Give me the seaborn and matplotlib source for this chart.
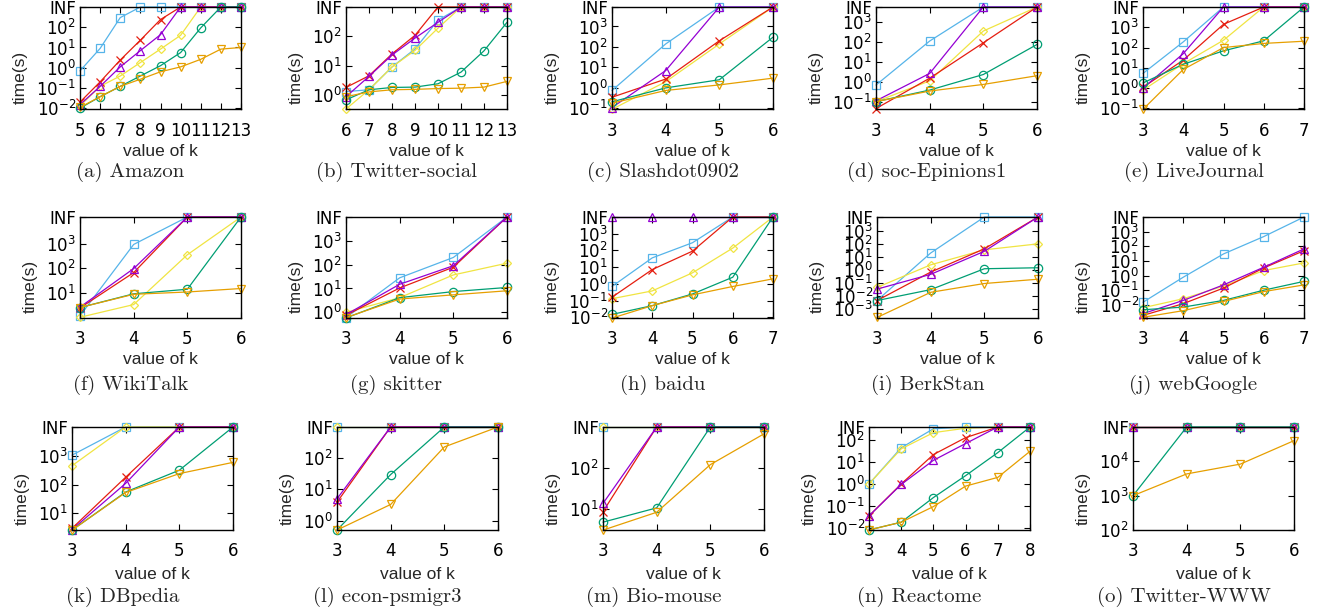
import numpy as np
import matplotlib
matplotlib.use("Agg")
import matplotlib.pyplot as plt
import seaborn as sns

INF = np.inf

# (a) Amazon
amazon_k = [5, 6, 7, 8, 9, 10, 11, 12, 13]
amazon_sq = [0.7, 9, 300, INF, INF, INF, INF, INF, INF]
amazon_dia = [0.013, 0.12, 0.39, 1.8, 8.3, 40, INF, INF, INF]
amazon_x = [0.02, 0.2, 2.4, 23, 240, INF, INF, INF, INF]
amazon_tri = [0.015, 0.12, 1.1, 7, 43, INF, INF, INF, INF]
amazon_cir = [0.01, 0.037, 0.12, 0.39, 1.26, 5.6, 93, INF, INF]
amazon_inv = [0.011, 0.037, 0.12, 0.27, 0.63, 1.1, 2.6, 8.3, 10]

# (b) Twitter-social
twsoc_k = [6, 7, 8, 9, 10, 11, 12, 13]
twsoc_sq = [1.3, 1.5, 9, 37, 355, INF, INF, INF]
twsoc_dia = [0.33, 1.5, 9, 33, 190, INF, INF, INF]
twsoc_x = [1.8, 4.5, 25, 108, INF, INF, INF, INF]
twsoc_tri = [0.87, 4.3, 23, 87, 300, INF, INF, INF]
twsoc_cir = [0.68, 1.5, 1.8, 1.85, 2.4, 6, 32, 300]
twsoc_inv = [0.87, 1.27, 1.5, 1.55, 1.65, 1.7, 1.85, 2.9]

# (c) Slashdot0902
slash_k = [3, 4, 5, 6]
slash_sq = [0.75, 140, INF, INF]
slash_dia = [0.09, 2, 140, INF]
slash_x = [0.35, 2.7, 200, INF]
slash_tri = [0.11, 7, INF, INF]
slash_cir = [0.21, 1.0, 2.5, 300]
slash_inv = [0.18, 0.75, 1.4, 3]

# (d) soc-Epinions1
epin_k = [3, 4, 5, 6]
epin_sq = [0.68, 110, INF, INF]
epin_dia = [0.1, 1.1, 350, INF]
epin_x = [0.045, 1.5, 90, INF]
epin_tri = [0.11, 2.6, INF, INF]
epin_cir = [0.1, 0.38, 2.3, 74]
epin_inv = [0.1, 0.34, 0.73, 2]

# (e) LiveJournal
lj_k = [3, 4, 5, 6, 7]
lj_sq = [5.3, 190, INF, INF, INF]
lj_dia = [0.8, 16, 230, INF, INF]
lj_x = [1.1, 24, 1400, INF, INF]
lj_tri = [1.0, 50, INF, INF, INF]
lj_cir = [1.8, 15, 69, 215, INF]
lj_inv = [0.09, 8.3, 100, 160, 205]

# (f) WikiTalk
wiki_k = [3, 4, 5, 6]
wiki_sq = [1.15, 950, INF, INF]
wiki_dia = [1.0, 3.3, 360, INF]
wiki_x = [2.4, 67, INF, INF]
wiki_tri = [2.6, 98, INF, INF]
wiki_cir = [2.5, 9.1, 14, INF]
wiki_inv = [2.5, 8.7, 10.8, 15]

# (g) skitter
skit_k = [3, 4, 5, 6]
skit_sq = [0.6, 28, 200, INF]
skit_dia = [1.0, 4.1, 37, 115]
skit_x = [0.75, 10.5, 78, INF]
skit_tri = [0.8, 15, 90, INF]
skit_cir = [0.58, 4.1, 7.4, 11]
skit_inv = [0.6, 3.6, 5.4, 8]

# (h) baidu
baidu_k = [3, 4, 5, 6, 7]
baidu_sq = [0.7, 36, 290, INF, INF]
baidu_dia = [0.13, 0.38, 4.6, 138, INF]
baidu_x = [0.16, 7.2, 91, INF, INF]
baidu_tri = [INF, INF, INF, INF, INF]
baidu_cir = [0.015, 0.05, 0.25, 2.5, INF]
baidu_inv = [0.009, 0.05, 0.22, 0.7, 2]

# (i) BerkStan
berk_k = [3, 4, 5, 6]
berk_sq = [0.0047, 20, INF, INF]
berk_dia = [0.047, 2.5, 35, 100]
berk_x = [0.0047, 0.7, 42, INF]
berk_tri = [0.035, 0.47, 27, INF]
berk_cir = [0.0047, 0.032, 1.26, 1.5]
berk_inv = [0.00024, 0.02, 0.094, 0.2]

# (j) webGoogle
wg_k = [3, 4, 5, 6, 7]
wg_sq = [0.015, 0.77, 30, 460, INF]
wg_dia = [0.0063, 0.026, 0.19, 2.2, 7.3]
wg_x = [0.0019, 0.012, 0.14, 3.3, 50]
wg_tri = [0.0025, 0.02, 0.23, 3.7, 66]
wg_cir = [0.0046, 0.007, 0.02, 0.1, 0.4]
wg_inv = [0.0014, 0.004, 0.017, 0.08, 0.23]

# (k) DBpedia
dbp_k = [3, 4, 5, 6]
dbp_sq = [1050, INF, INF, INF]
dbp_dia = [450, INF, INF, INF]
dbp_x = [3, 180, INF, INF]
dbp_tri = [2.7, 110, INF, INF]
dbp_cir = [2.6, 55, 315, INF]
dbp_inv = [2.6, 53, 240, 590]

# (l) econ-psmigr3
econ_k = [3, 4, 5, 6]
econ_sq = [INF, INF, INF, INF]
econ_dia = [INF, INF, INF, INF]
econ_x = [3.9, INF, INF, INF]
econ_tri = [5, INF, INF, INF]
econ_cir = [0.5, 30, INF, INF]
econ_inv = [0.5, 3.3, 230, INF]

# (m) Bio-mouse
bio_k = [3, 4, 5, 6]
bio_sq = [INF, INF, INF, INF]
bio_dia = [INF, INF, INF, INF]
bio_x = [8.5, INF, INF, INF]
bio_tri = [13.5, INF, INF, INF]
bio_cir = [4.7, 10.5, INF, INF]
bio_inv = [3, 8.2, 120, 680]

# (n) Reactome
react_k = [3, 4, 5, 6, 7, 8]
react_sq = [1.0, 45, 330, INF, INF, INF]
react_dia = [1.0, 40, 220, 350, INF, INF]
react_x = [0.035, 1.0, 22, 130, INF, INF]
react_tri = [0.035, 0.95, 12, 70, INF, INF]
react_cir = [0.008, 0.018, 0.24, 2.4, 27, INF]
react_inv = [0.008, 0.018, 0.093, 0.8, 2, 31]

# (o) Twitter-WWW
tww_k = [3, 4, 5, 6]
tww_sq = [INF, INF, INF, INF]
tww_dia = [INF, INF, INF, INF]
tww_x = [INF, INF, INF, INF]
tww_tri = [INF, INF, INF, INF]
tww_cir = [1000, INF, INF, INF]
tww_inv = [1000, 4300, 8300, 40000]

# caption, k, series, log10 of INF, log10 of bottom, labelled decades
panels = [
    ("(a) Amazon", amazon_k, [amazon_sq, amazon_dia, amazon_x, amazon_tri, amazon_cir, amazon_inv], 3, -2.04, range(-2, 3)),
    ("(b) Twitter-social", twsoc_k, [twsoc_sq, twsoc_dia, twsoc_x, twsoc_tri, twsoc_cir, twsoc_inv], 3, -0.48, range(0, 3)),
    ("(c) Slashdot0902", slash_k, [slash_sq, slash_dia, slash_x, slash_tri, slash_cir, slash_inv], 3.95, -1.03, range(-1, 4)),
    ("(d) soc-Epinions1", epin_k, [epin_sq, epin_dia, epin_x, epin_tri, epin_cir, epin_inv], 3.75, -1.37, range(-1, 4)),
    ("(e) LiveJournal", lj_k, [lj_sq, lj_dia, lj_x, lj_tri, lj_cir, lj_inv], 4, -1.03, range(-1, 4)),
    ("(f) WikiTalk", wiki_k, [wiki_sq, wiki_dia, wiki_x, wiki_tri, wiki_cir, wiki_inv], 4.1, -0.03, range(1, 4)),
    ("(g) skitter", skit_k, [skit_sq, skit_dia, skit_x, skit_tri, skit_cir, skit_inv], 4, -0.24, range(0, 4)),
    ("(h) baidu", baidu_k, [baidu_sq, baidu_dia, baidu_x, baidu_tri, baidu_cir, baidu_inv], 4, -2.04, range(-2, 4)),
    ("(i) BerkStan", berk_k, [berk_sq, berk_dia, berk_x, berk_tri, berk_cir, berk_inv], 4.05, -3.66, range(-3, 4)),
    ("(j) webGoogle", wg_k, [wg_sq, wg_dia, wg_x, wg_tri, wg_cir, wg_inv], 4, -2.9, range(-2, 4)),
    ("(k) DBpedia", dbp_k, [dbp_sq, dbp_dia, dbp_x, dbp_tri, dbp_cir, dbp_inv], 4, 0.42, range(1, 4)),
    ("(l) econ-psmigr3", econ_k, [econ_sq, econ_dia, econ_x, econ_tri, econ_cir, econ_inv], 3, -0.3, range(0, 3)),
    ("(m) Bio-mouse", bio_k, [bio_sq, bio_dia, bio_x, bio_tri, bio_cir, bio_inv], 3, 0.48, range(1, 3)),
    ("(n) Reactome", react_k, [react_sq, react_dia, react_x, react_tri, react_cir, react_inv], 2.6, -2.1, range(-2, 3)),
    ("(o) Twitter-WWW", tww_k, [tww_sq, tww_dia, tww_x, tww_tri, tww_cir, tww_inv], 5, 2, range(2, 5)),
]

# colour / marker for each series (same order as the series lists)
colors = ["#56B4E9", "#F0E442", "#E51E10", "#9400D3", "#009E73", "#E69F00"]
markers = ["s", "D", "x", "^", "o", "v"]
msizes = [5.5, 4.2, 6, 5.5, 6, 5.5]

sns.set_theme(style="ticks")
plt.rcParams["font.family"] = ["Liberation Sans", "DejaVu Sans"]
plt.rcParams["mathtext.fontset"] = "dejavusans"
plt.rcParams["axes.linewidth"] = 1.0
plt.rcParams["axes.edgecolor"] = "black"

W, H = 1321, 609
fig = plt.figure(figsize=(W / 100, H / 100), dpi=100)
row_top = [7, 217, 427]
row_bot = [109, 318, 530]
lefts = [[80, 346, 612, 876, 1143],
         [80, 346, 612, 877, 1143],
         [72, 337, 603, 869, 1133]]
xlab_y = [-0.34, -0.34, -0.36]
cap_y = [172, 385, 597]
AW = 161

for i, (cap, ks, series, inf_e, lo_e, decs) in enumerate(panels):
    r, c = divmod(i, 5)
    l = lefts[r][c]
    ax = fig.add_axes([l / W, 1 - row_bot[r] / H, AW / W, (row_bot[r] - row_top[r]) / H])
    top = 10.0 ** inf_e
    for vals, col, mk, ms in zip(series, colors, markers, msizes):
        y = np.array(vals, dtype=float)
        y[np.isinf(y)] = top
        sns.lineplot(x=ks, y=y, ax=ax, color=col, marker=mk, ms=ms, mfc="none",
                     mec=col, mew=0.9, lw=0.9, clip_on=False)
    ax.set_yscale("log")
    ax.set_ylim(10.0 ** lo_e, top)
    ax.set_xlim(ks[0], ks[-1])
    ax.set_xticks(ks)
    ax.set_xticklabels([str(k) for k in ks])
    ax.set_yticks([10.0 ** d for d in decs] + [top])
    ax.set_yticklabels([r"$10^{%d}$" % d for d in decs] + ["INF"])
    ax.minorticks_off()
    ax.tick_params(direction="in", top=True, right=True, length=4, width=0.8,
                   labelsize=12, colors="black")
    for t in ax.get_xticklabels() + ax.get_yticklabels():
        t.set_family("DejaVu Sans")
    ax.tick_params(axis="x", pad=9)
    ax.tick_params(axis="y", pad=3)
    ax.set_xlabel("value of k", fontsize=12.5)
    ax.xaxis.set_label_coords(0.5, xlab_y[r])
    ax.set_ylabel("time(s)", fontsize=12.5, labelpad=6)
    ax.yaxis.label.set_y(0.31)
    fig.text((l + AW / 2 - 30) / W, 1 - cap_y[r] / H, cap, family="cmr10",
             fontsize=15, ha="center", va="center")

fig.savefig("out.png", dpi=100)
